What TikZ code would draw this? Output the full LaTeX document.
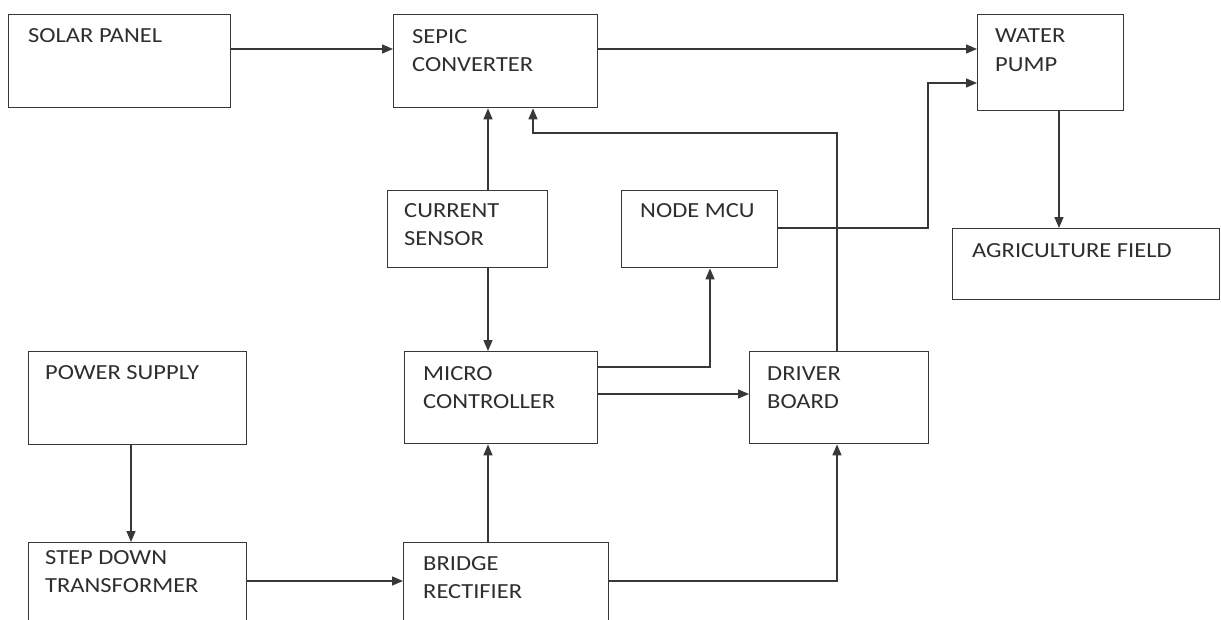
\documentclass[tikz,border=0pt]{standalone}
\usepackage{fontspec}
\setmainfont{Carlito}[FakeStretch=1.14]
\usetikzlibrary{arrows.meta}
\definecolor{linecol}{HTML}{383838}
\definecolor{textcol}{HTML}{2E2E2E}
\tikzset{
  box/.style={draw=linecol, line width=1.4pt, rectangle, inner sep=0pt, anchor=north west},
  lbl/.style={anchor=north west, inner sep=0pt, align=left, text=textcol,
     font=\fontsize{21.5}{28.5}\selectfont},
  arr/.style={draw=linecol, line width=1.4pt, -{Triangle[length=11pt,width=9pt]}},
  ln/.style={draw=linecol, line width=1.4pt}
}
\begin{document}
\begin{tikzpicture}[x=1pt,y=-1pt]
\clip (0,0) rectangle (1221,619);
\fill[white] (0,0) rectangle (1221,619);
% boxes
\node[box, minimum width=222pt, minimum height=93pt] (solar) at (8,14) {};
\node[box, minimum width=204pt, minimum height=93pt] (sepic) at (393,14) {};
\node[box, minimum width=146pt, minimum height=96pt] (pump) at (977,14) {};
\node[box, minimum width=160pt, minimum height=77pt] (current) at (387,190) {};
\node[box, minimum width=156pt, minimum height=77pt] (nodemcu) at (621,190) {};
\node[box, minimum width=267pt, minimum height=71pt] (agri) at (952,228) {};
\node[box, minimum width=218pt, minimum height=93pt] (power) at (28,351) {};
\node[box, minimum width=193pt, minimum height=92pt] (micro) at (404,351) {};
\node[box, minimum width=179pt, minimum height=92pt] (driver) at (749,351) {};
\node[box, minimum width=218pt, minimum height=98pt] (step) at (28,542) {};
\node[box, minimum width=205pt, minimum height=98pt] (bridge) at (403,542) {};
% labels
\node[lbl] (solarT) at (28,28) {SOLAR PANEL};
\node[lbl] (sepicT) at (412,29) {SEPIC\\CONVERTER};
\node[lbl] (pumpT) at (995,29) {WATER\\PUMP};
\node[lbl] (currentT) at (404,203) {CURRENT\\SENSOR};
\node[lbl] (nodemcuT) at (640,203) {NODE MCU};
\node[lbl] (agriT) at (972,243) {AGRICULTURE FIELD};
\node[lbl] (powerT) at (45,365) {POWER SUPPLY};
\node[lbl] (microT) at (423,366) {MICRO\\CONTROLLER};
\node[lbl] (driverT) at (767,366) {DRIVER\\BOARD};
\node[lbl] (stepT) at (45,550) {STEP DOWN\\TRANSFORMER};
\node[lbl] (bridgeT) at (423,556) {BRIDGE\\RECTIFIER};
% connectors
\draw[arr] (solar.east |- 0,49) -- (sepic.west |- 0,49);
\draw[arr] (sepic.east |- 0,49) -- (pump.west |- 0,49);
\draw[arr] (current.north -| 488,0) -- (sepic.south -| 488,0);
\draw[arr] (driver.north -| 837,0) -- (837,133) -- (533,133) -- (sepic.south -| 533,0);
\draw[arr] (nodemcu.east |- 0,228) -- (928,228) -- (928,83) -- (pump.west |- 0,83);
\draw[arr] (pump.south -| 1059,0) -- (agri.north -| 1059,0);
\draw[arr] (current.south -| 488,0) -- (micro.north -| 488,0);
\draw[arr] (micro.east |- 0,367) -- (710,367) -- (nodemcu.south -| 710,0);
\draw[arr] (micro.east |- 0,394) -- (driver.west |- 0,394);
\draw[arr] (power.south -| 131,0) -- (step.north -| 131,0);
\draw[arr] (step.east |- 0,581) -- (bridge.west |- 0,581);
\draw[arr] (bridge.north -| 488,0) -- (micro.south -| 488,0);
\draw[arr] (bridge.east |- 0,581) -- (837,581) -- (driver.south -| 837,0);
\end{tikzpicture}
\end{document}
